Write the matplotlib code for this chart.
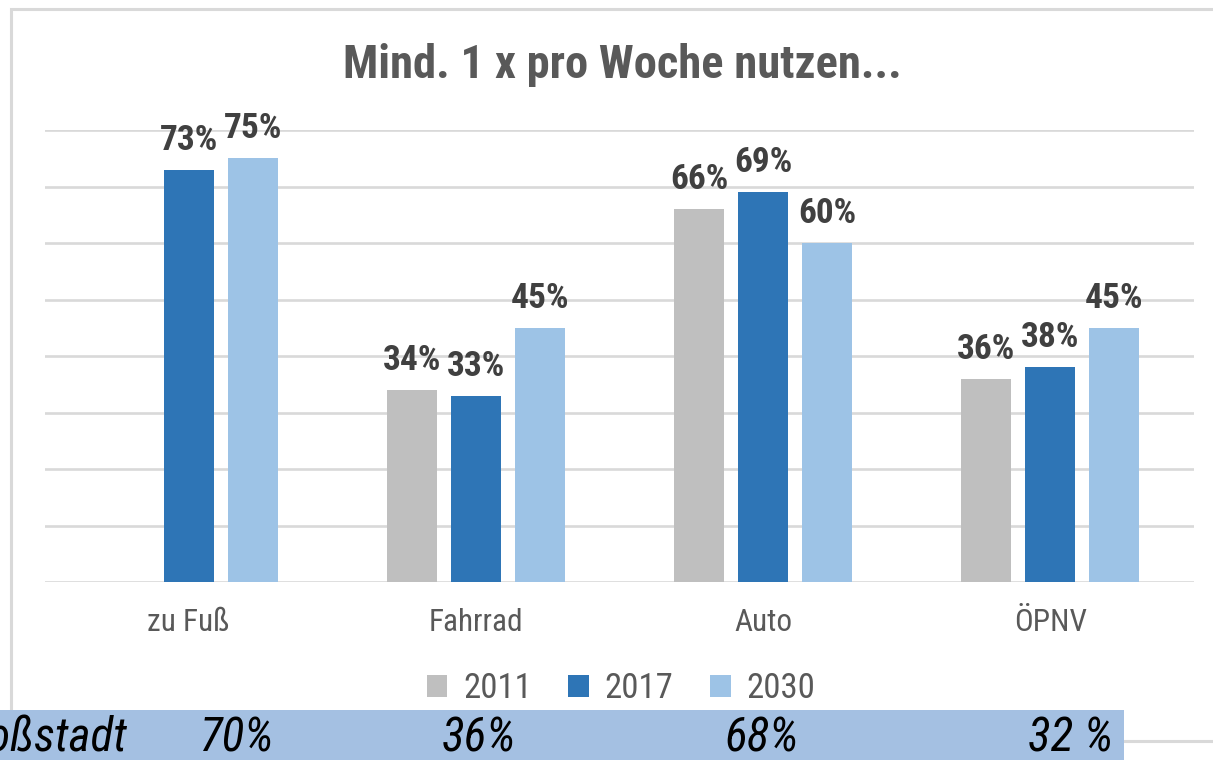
import matplotlib
matplotlib.use('Agg')

import matplotlib.pyplot as plt
import numpy as np
from matplotlib.patches import Rectangle, Patch
from matplotlib import font_manager

# data
categories = ['zu Fuß', 'Fahrrad', 'Auto', 'ÖPNV']
years = ['2011', '2017', '2030']
v2011 = [np.nan, 34, 66, 36]
v2017 = [73, 33, 69, 38]
v2030 = [75, 45, 60, 45]
big_city_label = 'Großstadt'
big_city = ['70%', '36%', '68%', '32 %']

colors = ['#BFBFBF', '#2E75B6', '#9DC3E6']

# the original uses a narrow face; take one if installed
names = {f.name for f in font_manager.fontManager.ttflist}
FONT = 'Liberation Sans'
for cand in ['Liberation Sans Narrow', 'Roboto Condensed', 'Open Sans Condensed']:
    if cand in names:
        FONT = cand
        break
plt.rcParams['font.family'] = [FONT, 'DejaVu Sans']

W, H = 1213, 760
fig = plt.figure(figsize=(W / 100, H / 100), dpi=100)

# outer chart frame (light grey)
fig.patches.append(Rectangle((11 / W, 19 / H), 1.2, (741 - 9) / H,
                             transform=fig.transFigure, fill=False,
                             edgecolor='#D9D9D9', lw=2.2, zorder=0))

ax = fig.add_axes([45 / W, 1 - 582 / H, (1194 - 45) / W, (582 - 130) / H])
x = np.arange(len(categories))
width = 0.174
offset = 0.223
series = [v2011, v2017, v2030]

for i, (vals, col) in enumerate(zip(series, colors)):
    pos = x + (i - 1) * offset
    ax.bar(pos, vals, width, color=col, zorder=3)
    for xp, v in zip(pos, vals):
        if np.isnan(v):
            continue
        ax.annotate('%d%%' % v, (xp, v), xytext=(0, 14.4), textcoords='offset points',
                    ha='center', va='baseline', fontsize=25.5, fontweight='bold',
                    color='#404040', zorder=4)

ax.set_xlim(-0.5, len(categories) - 0.5)
ax.set_ylim(0, 80)
ax.set_yticks(np.arange(0, 81, 10))
ax.yaxis.grid(True, color='#D9D9D9', lw=1.9, zorder=0)
ax.tick_params(axis='y', left=False, labelleft=False)
ax.tick_params(axis='x', bottom=False, pad=15, labelsize=22.5, labelcolor='#595959')
ax.set_xticks(x)
ax.set_xticklabels(categories)
for s in ax.spines.values():
    s.set_visible(False)

fig.text(622 / W, 1 - 78 / H, 'Mind. 1 x pro Woche nutzen...', ha='center',
         va='baseline', fontsize=33.5, fontweight='bold', color='#595959')

handles = [Patch(facecolor=c, edgecolor='none') for c in colors]
fig.legend(handles, years, loc='center', bbox_to_anchor=(621 / W, 1 - 689 / H),
           ncol=3, frameon=False, fontsize=25, labelcolor='#595959',
           handlelength=0.6, handleheight=0.6, handletextpad=0.45,
           columnspacing=1.05)

# blue band with the big-city comparison values
fig.patches.append(Rectangle((0, 0), 1124 / W, 50 / H, transform=fig.transFigure,
                             facecolor='#A4C0E2', edgecolor='none', zorder=2))
base_y = 1 - 751 / H
band_fs = 34
fig.text(127 / W, base_y, big_city_label, ha='right', va='baseline',
         fontsize=band_fs, style='italic', color='black', zorder=3)
band_x = [236, 479, 762]
for bx, t in zip(band_x, big_city[:3]):
    fig.text(bx / W, base_y, t, ha='center', va='baseline', fontsize=band_fs,
             style='italic', color='black', zorder=3)
fig.text(1113 / W, base_y, big_city[3], ha='right', va='baseline', fontsize=band_fs,
         style='italic', color='black', zorder=3)

fig.savefig('out.png', dpi=100)
